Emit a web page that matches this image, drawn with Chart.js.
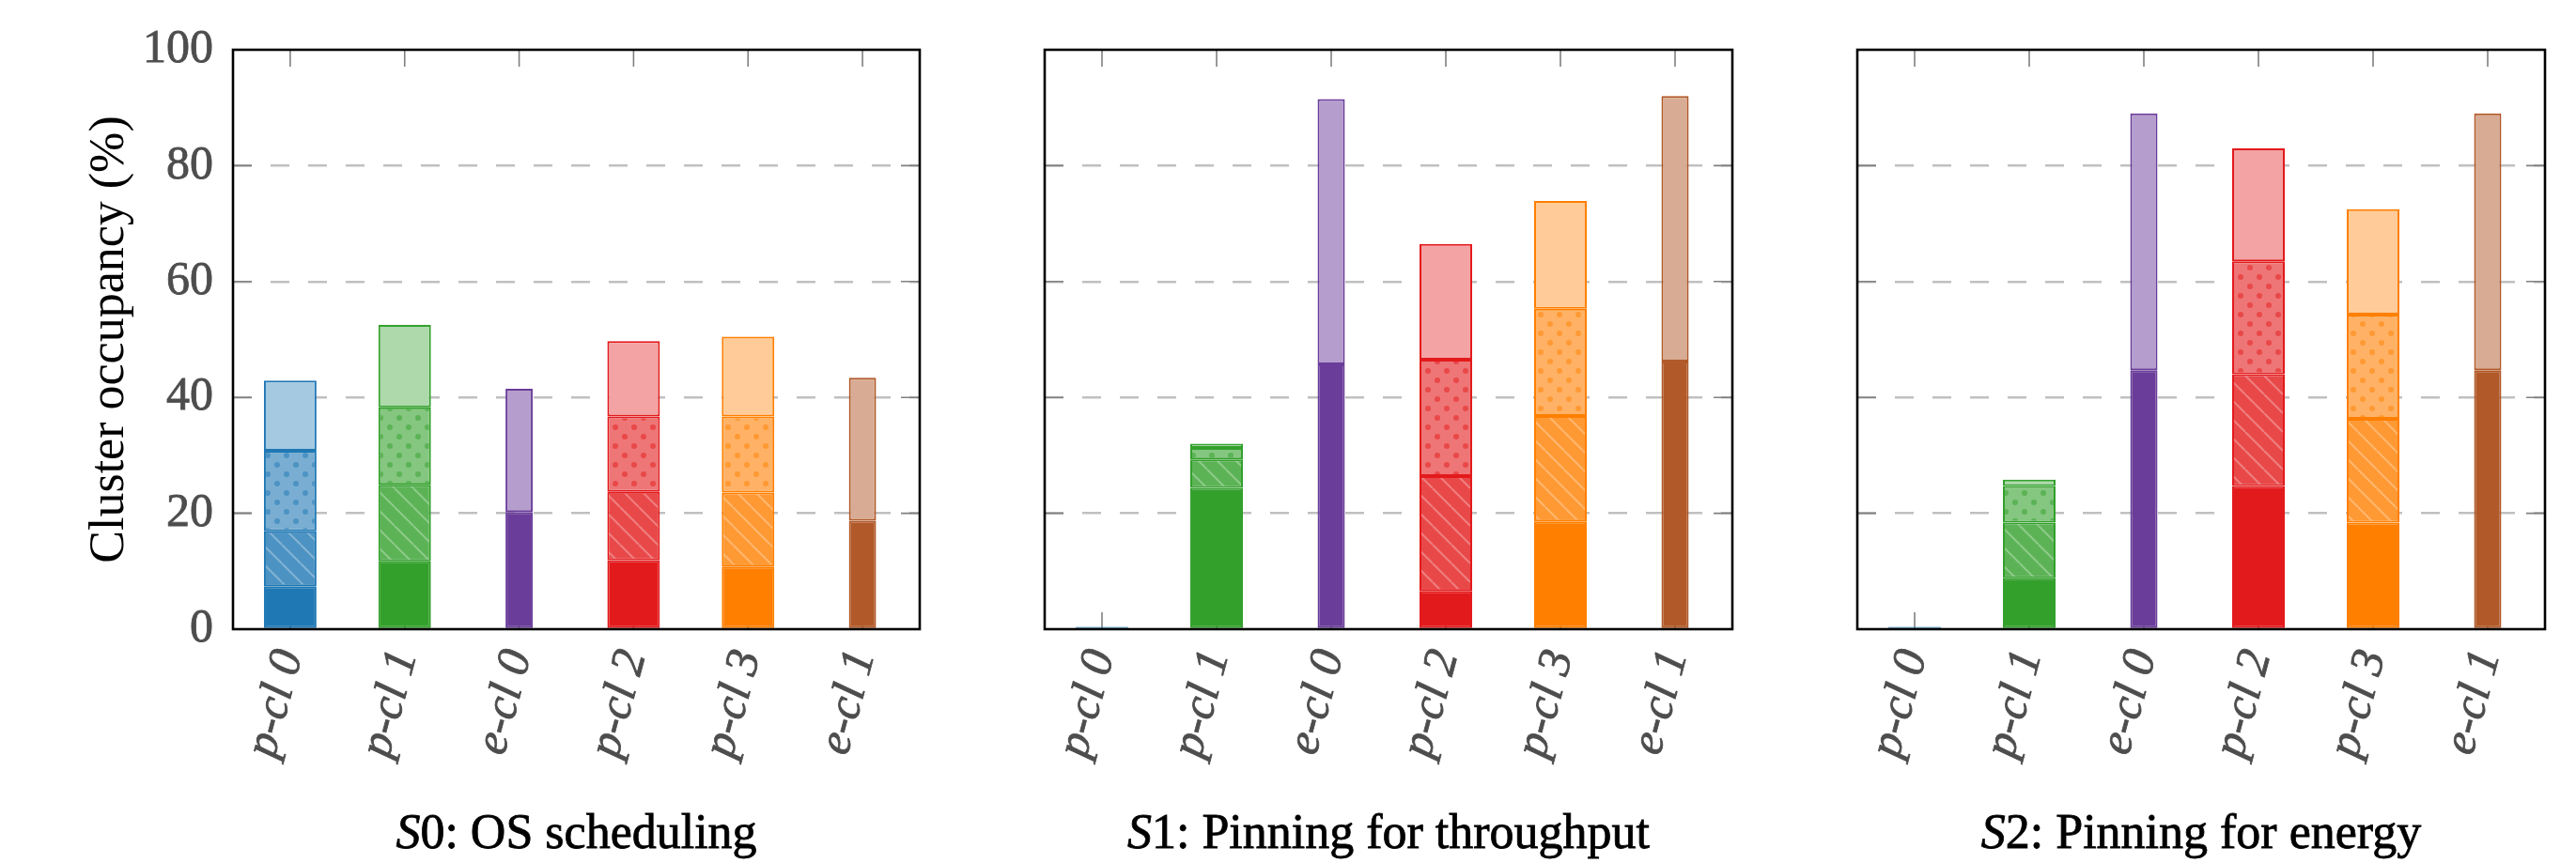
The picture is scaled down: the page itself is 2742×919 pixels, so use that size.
<!DOCTYPE html>
<html>
<head>
<meta charset="utf-8">
<script src="https://cdn.jsdelivr.net/npm/chart.js@4.4.1/dist/chart.umd.min.js"></script>
<style>
  html, body { margin: 0; padding: 0; background: #fff; }
  #wrap { position: relative; width: 2742px; height: 919px; }
  canvas { position: absolute; top: 0; }
</style>
</head>
<body>
<div id="wrap">
  <canvas id="c0" width="1045" height="919" style="left:0px"></canvas>
  <canvas id="c1" width="865" height="919" style="left:1045px"></canvas>
  <canvas id="c2" width="832" height="919" style="left:1910px"></canvas>
</div>
<script>
const clusters = ["p-cl 0", "p-cl 1", "e-cl 0", "p-cl 2", "p-cl 3", "e-cl 1"];
const clusterColors = ["#1f78b4", "#33a02c", "#6a3d9a", "#e31a1c", "#ff7f00", "#b15928"];
const yTicks = [0, 20, 40, 60, 80, 100];
const scenarios = ["S0", "S1", "S2"];
const captions = ["OS scheduling", "Pinning for throughput", "Pinning for energy"];

// segment heights (%), bottom to top; e-clusters only have level 1 and level 4
const s0Level1 = [7.4, 11.7, 20.2, 11.9, 10.8, 18.7];
const s0Level2 = [9.5, 13.2, null, 11.8, 12.8, null];
const s0Level3 = [13.9, 13.4, null, 13.0, 13.1, null];
const s0Level4 = [12.1, 14.2, 21.3, 13.0, 13.8, 24.7];

const s1Level1 = [0.4, 24.4, 45.7, 6.6, 18.6, 46.2];
const s1Level2 = [0, 4.9, null, 19.8, 18.2, null];
const s1Level3 = [0, 2.0, null, 20.1, 18.5, null];
const s1Level4 = [0, 0.7, 45.8, 20.0, 18.6, 45.8];

const s2Level1 = [0.4, 8.8, 44.7, 24.7, 18.4, 44.7];
const s2Level2 = [0, 9.6, null, 19.3, 17.9, null];
const s2Level3 = [0, 6.3, null, 19.5, 18.0, null];
const s2Level4 = [0, 1.1, 44.3, 19.5, 18.2, 44.3];

const FONT = "'Liberation Serif', Times, serif";
const isE = clusters.map(c => c.startsWith("e"));

function mix(hex, a) {
  const n = parseInt(hex.slice(1), 16);
  const r = (n >> 16) & 255, g = (n >> 8) & 255, b = n & 255;
  const m = v => Math.round(255 * (1 - a) + v * a);
  return "rgb(" + m(r) + "," + m(g) + "," + m(b) + ")";
}

function hatch(ctx, hex) {
  const t = document.createElement("canvas");
  t.width = t.height = 20;
  const g = t.getContext("2d");
  g.fillStyle = mix(hex, 0.8);
  g.fillRect(0, 0, 20, 20);
  g.strokeStyle = "rgba(255,255,255,0.3)";
  g.lineWidth = 2;
  for (const o of [-20, 0, 20]) {
    g.beginPath();
    g.moveTo(o, 0);
    g.lineTo(o + 20, 20);
    g.stroke();
  }
  return ctx.createPattern(t, "repeat");
}

function dots(ctx, hex) {
  const t = document.createElement("canvas");
  t.width = t.height = 20;
  const g = t.getContext("2d");
  g.fillStyle = mix(hex, 0.6);
  g.fillRect(0, 0, 20, 20);
  g.fillStyle = mix(hex, 0.8);
  for (const [x, y] of [[5, 5], [15, 15]]) {
    g.beginPath();
    g.arc(x, y, 3, 0, Math.PI * 2);
    g.fill();
  }
  return ctx.createPattern(t, "repeat");
}

const frame = {
  id: "frame",
  beforeDatasetsDraw(chart) {
    const { ctx, chartArea: a, scales: { x, y } } = chart;
    ctx.save();
    ctx.strokeStyle = "#808080";
    ctx.lineWidth = 1.6;
    ctx.beginPath();
    clusters.forEach((c, i) => {
      const px = x.getPixelForValue(i);
      ctx.moveTo(px, a.top); ctx.lineTo(px, a.top + 18);
      ctx.moveTo(px, a.bottom); ctx.lineTo(px, a.bottom - 18);
    });
    yTicks.forEach(v => {
      const py = y.getPixelForValue(v);
      ctx.moveTo(a.left, py); ctx.lineTo(a.left + 20, py);
      ctx.moveTo(a.right, py); ctx.lineTo(a.right - 20, py);
    });
    ctx.stroke();
    ctx.restore();
  },
  afterDatasetsDraw(chart, args, opts) {
    const { ctx, chartArea: a } = chart;
    ctx.save();
    ctx.strokeStyle = "#000";
    ctx.lineWidth = 2.6;
    ctx.strokeRect(a.left, a.top, a.right - a.left, a.bottom - a.top);

    // caption: italic S, upright rest
    const it = "italic 52px " + FONT, up = "52px " + FONT;
    const p1 = opts.id.slice(0, 1), p2 = opts.id.slice(1) + ": " + opts.text;
    ctx.font = it; const w1 = ctx.measureText(p1).width;
    ctx.font = up; const w2 = ctx.measureText(p2).width;
    const cx = (a.left + a.right) / 2 - (w1 + w2) / 2;
    ctx.fillStyle = "#000";
    ctx.lineWidth = 0.8;
    ctx.textBaseline = "alphabetic";
    ctx.font = it; ctx.fillText(p1, cx, 903); ctx.strokeText(p1, cx, 903);
    ctx.font = up; ctx.fillText(p2, cx + w1, 903); ctx.strokeText(p2, cx + w1, 903);
    ctx.restore();
  }
};

function makeDatasets(ctx, levels) {
  const sets = [];
  const fills = [
    c => c,
    c => hatch(ctx, c),
    c => dots(ctx, c),
    c => mix(c, 0.4)
  ];
  levels.forEach((vals, li) => {
    sets.push({
      data: vals.map((v, i) => isE[i] ? null : v),
      stack: "p",
      backgroundColor: clusterColors.map(fills[li]),
      borderColor: clusterColors,
      borderWidth: 2,
      borderSkipped: false,
      categoryPercentage: 1,
      barPercentage: 56 / 122
    });
  });
  [levels[0], levels[3]].forEach((vals, k) => {
    sets.push({
      data: vals.map((v, i) => isE[i] ? v : null),
      stack: "e",
      backgroundColor: clusterColors.map(c => k === 0 ? c : mix(c, 0.5)),
      borderColor: clusterColors,
      borderWidth: 2,
      borderSkipped: false,
      categoryPercentage: 1,
      barPercentage: 29 / 122
    });
  });
  return sets;
}

const panels = [
  { canvas: "c0", levels: [s0Level1, s0Level2, s0Level3, s0Level4], yWidth: 248, padRight: 66, showY: true },
  { canvas: "c1", levels: [s1Level1, s1Level2, s1Level3, s1Level4], yWidth: 67, padRight: 66, showY: false },
  { canvas: "c2", levels: [s2Level1, s2Level2, s2Level3, s2Level4], yWidth: 67, padRight: 33, showY: false }
];

panels.forEach((p, n) => {
  const el = document.getElementById(p.canvas);
  const ctx = el.getContext("2d");
  new Chart(el, {
    type: "bar",
    data: { labels: clusters, datasets: makeDatasets(ctx, p.levels) },
    plugins: [frame],
    options: {
      responsive: false,
      animation: false,
      grouped: false,
      layout: { padding: { top: 53, right: p.padRight, left: 0, bottom: 0 } },
      plugins: {
        legend: { display: false },
        tooltip: { enabled: false },
        frame: { id: scenarios[n], text: captions[n] }
      },
      scales: {
        x: {
          stacked: true,
          offset: true,
          grid: { display: false },
          border: { display: false },
          ticks: {
            autoSkip: false,
            minRotation: 75,
            maxRotation: 75,
            padding: 8,
            color: "#4d4d4d",
            textStrokeColor: "#4d4d4d",
            textStrokeWidth: 0.8,
            font: { family: FONT, size: 50, style: "italic" }
          },
          afterFit: s => { s.height = 249; }
        },
        y: {
          stacked: true,
          min: 0,
          max: 100,
          border: { display: false, dash: [20, 20] },
          grid: {
            drawTicks: false,
            lineWidth: 2.5,
            color: c => (c.tick.value === 0 || c.tick.value === 100) ? "rgba(0,0,0,0)" : "#c0c0c0"
          },
          ticks: {
            display: p.showY,
            stepSize: 20,
            padding: 21,
            color: "#4d4d4d",
            textStrokeColor: "#4d4d4d",
            textStrokeWidth: 0.8,
            font: { family: FONT, size: 50 }
          },
          title: {
            display: p.showY,
            text: "Cluster occupancy (%)",
            color: "#000",
            font: { family: FONT, size: 52, lineHeight: 1 },
            padding: { top: 91, bottom: 0 }
          },
          afterFit: s => { s.width = p.yWidth; }
        }
      }
    }
  });
});
</script>
</body>
</html>
